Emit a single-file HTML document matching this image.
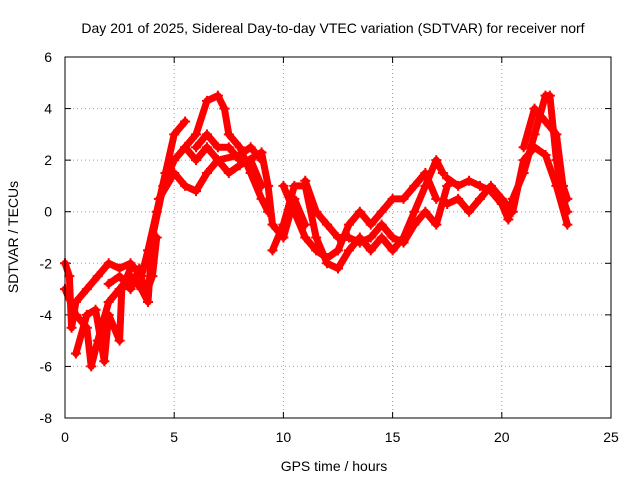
<!DOCTYPE html>
<html><head><meta charset="utf-8"><style>
body{margin:0;background:#fff;font-family:"Liberation Sans",sans-serif;}
svg text{font-family:"Liberation Sans",sans-serif;font-size:14px;fill:#000;}
</style></head><body>
<svg width="640" height="480">
<text x="333" y="33" text-anchor="middle">Day 201 of 2025, Sidereal Day-to-day VTEC variation (SDTVAR) for receiver norf</text>
<text x="334" y="471" text-anchor="middle">GPS time / hours</text>
<text transform="translate(18,237) rotate(-90)" text-anchor="middle">SDTVAR / TECUs</text>
<g id="grid"></g>
<g id="ticks"></g>
<g id="series"></g>
<rect x="65" y="57" width="546" height="361" fill="none" stroke="#000" stroke-width="1"/>
</svg>
<script>
const xTicks=[0,5,10,15,20,25];
const yTicks=[-8,-6,-4,-2,0,2,4,6];
const trackA=[[0,-2],[0.2,-2.5],[0.3,-4.5],[0.5,-3.5],[1,-3],[1.5,-2.5],[2,-2],[2.5,-2.2],[3,-2],[3.5,-2.5],[3.8,-1.5],[4.2,0],[4.6,1.5],[5,3],[5.5,3.5]];
const trackB=[[0,-3],[0.5,-4],[1,-4.5],[1.2,-6],[1.5,-5],[2,-3.5],[2.5,-3],[3,-2.5],[3.5,-3],[3.8,-3.5],[4,-1],[4.5,1],[5,2],[5.5,2.5],[6,2],[6.5,2.5],[7,2],[8,2.2],[8.5,2.5],[9,2]];
const trackC=[[0.5,-5.5],[1,-4],[1.4,-3.8],[1.8,-5.8],[2,-4],[2.5,-5],[2.6,-3],[3,-2.2]];
const trackM=[[2,-2.8],[2.5,-2.5],[3,-3],[3.4,-2.2],[3.7,-3.2],[4,-2.5],[4.2,-1]];
const trackD=[[4.3,0.5],[5,1.5],[5.5,1],[6,0.8],[6.5,1.5],[7,2],[7.5,1.5],[8,1.8],[9,2.3],[9.3,1],[9.5,-0.5],[10,-1],[10.5,0.5],[11,-0.5]];
const trackE=[[5.5,2.5],[6,3],[6.5,4.3],[7,4.5],[7.3,4],[7.5,3],[8,2.5],[8.5,1.5],[9,0.5],[9.3,0]];
const trackF=[[6,2.5],[6.5,3],[7,2.5],[7.5,2.5],[8,2],[8.5,2],[9,1]];
const trackG=[[9.5,-1.5],[10,-0.5],[10.5,1],[11,1],[11.5,-1],[12,-2],[12.5,-2.2],[13,-1.5],[13.5,-1],[14,-1.5],[14.5,-1],[15,-1.5],[15.5,-1],[16,0],[16.5,1],[17,2],[17.3,1.5]];
const trackH=[[10,1],[10.5,0],[11,-1],[11.5,-1.5],[12,-1.8],[12.5,-1.5],[13,-0.5],[13.5,0],[14,-0.5],[14.5,0],[15,0.5],[15.5,0.5],[16,1],[16.5,1.5],[17,0.5]];
const trackI=[[11,1.2],[11.5,0],[12,-0.5],[12.5,-1],[13,-1],[13.5,-1.2],[14,-1],[14.5,-0.5],[15,-1],[15.5,-1.2],[16,-0.5],[16.5,0],[17,-0.5],[17.5,1]];
const trackJ=[[17.5,1.3],[18,1],[18.5,1.2],[19,1],[19.5,0.8],[20,0.3],[20.3,-0.3],[20.5,0.5],[21,1.5],[21.5,3],[22,4.5],[22.2,4.5],[22.5,2],[22.8,0.5],[23,0]];
const trackK=[[17.5,0.3],[18,0.5],[18.5,0],[19,0.5],[19.5,1],[20,0.5],[20.5,0],[21,2],[21.5,2.5],[22,2.2],[22.5,1],[23,-0.5]];
const trackL=[[21,2.5],[21.5,4],[22,3.5],[22.5,3],[22.8,1],[23,0.5]];
const tracks=[trackA,trackB,trackC,trackM,trackD,trackE,trackF,trackG,trackH,trackI,trackJ,trackK,trackL];
const NS="http://www.w3.org/2000/svg";
const X=v=>65+v*546/25, Y=v=>418-(v+8)*361/14;
function mk(t,a,p){const e=document.createElementNS(NS,t);for(const k in a)e.setAttribute(k,a[k]);p.appendChild(e);return e;}
const grid=document.getElementById('grid'),ticks=document.getElementById('ticks'),ser=document.getElementById('series');
xTicks.forEach(v=>{
 if(v>0&&v<25){const l=mk('line',{x1:X(v),x2:X(v),y1:57,y2:418,stroke:'#a0a0a0','stroke-dasharray':'1,3'},grid);
 
 }
 mk('line',{x1:X(v),x2:X(v),y1:418,y2:412,stroke:'#000'},ticks);
 mk('line',{x1:X(v),x2:X(v),y1:57,y2:63,stroke:'#000'},ticks);
 const t=mk('text',{x:X(v),y:442,'text-anchor':'middle'},ticks);t.textContent=v;
 
 
});
yTicks.forEach(v=>{
 if(v>-8&&v<6){const l=mk('line',{x1:65,x2:611,y1:Y(v),y2:Y(v),stroke:'#a0a0a0','stroke-dasharray':'1,3'},grid);
 
 }
 mk('line',{x1:65,x2:71,y1:Y(v),y2:Y(v),stroke:'#000'},ticks);
 mk('line',{x1:605,x2:611,y1:Y(v),y2:Y(v),stroke:'#000'},ticks);
 const t=mk('text',{x:52,y:Y(v)+5,'text-anchor':'end'},ticks);t.textContent=v;
 
 
});
tracks.forEach(tr=>{
 const pl=mk('polyline',{points:tr.map(p=>X(p[0])+','+Y(p[1])).join(' '),fill:'none',stroke:'#ff0000','stroke-width':7,'stroke-linejoin':'round','stroke-linecap':'round'},ser);
 
 
 tr.forEach(p=>{
  const m=mk('path',{d:`M${X(p[0])-5},${Y(p[1])}h10M${X(p[0])},${Y(p[1])-5}v10`,stroke:'#ff0000','stroke-width':2},ser);
  
  
 });
});
</script>
</body></html>
